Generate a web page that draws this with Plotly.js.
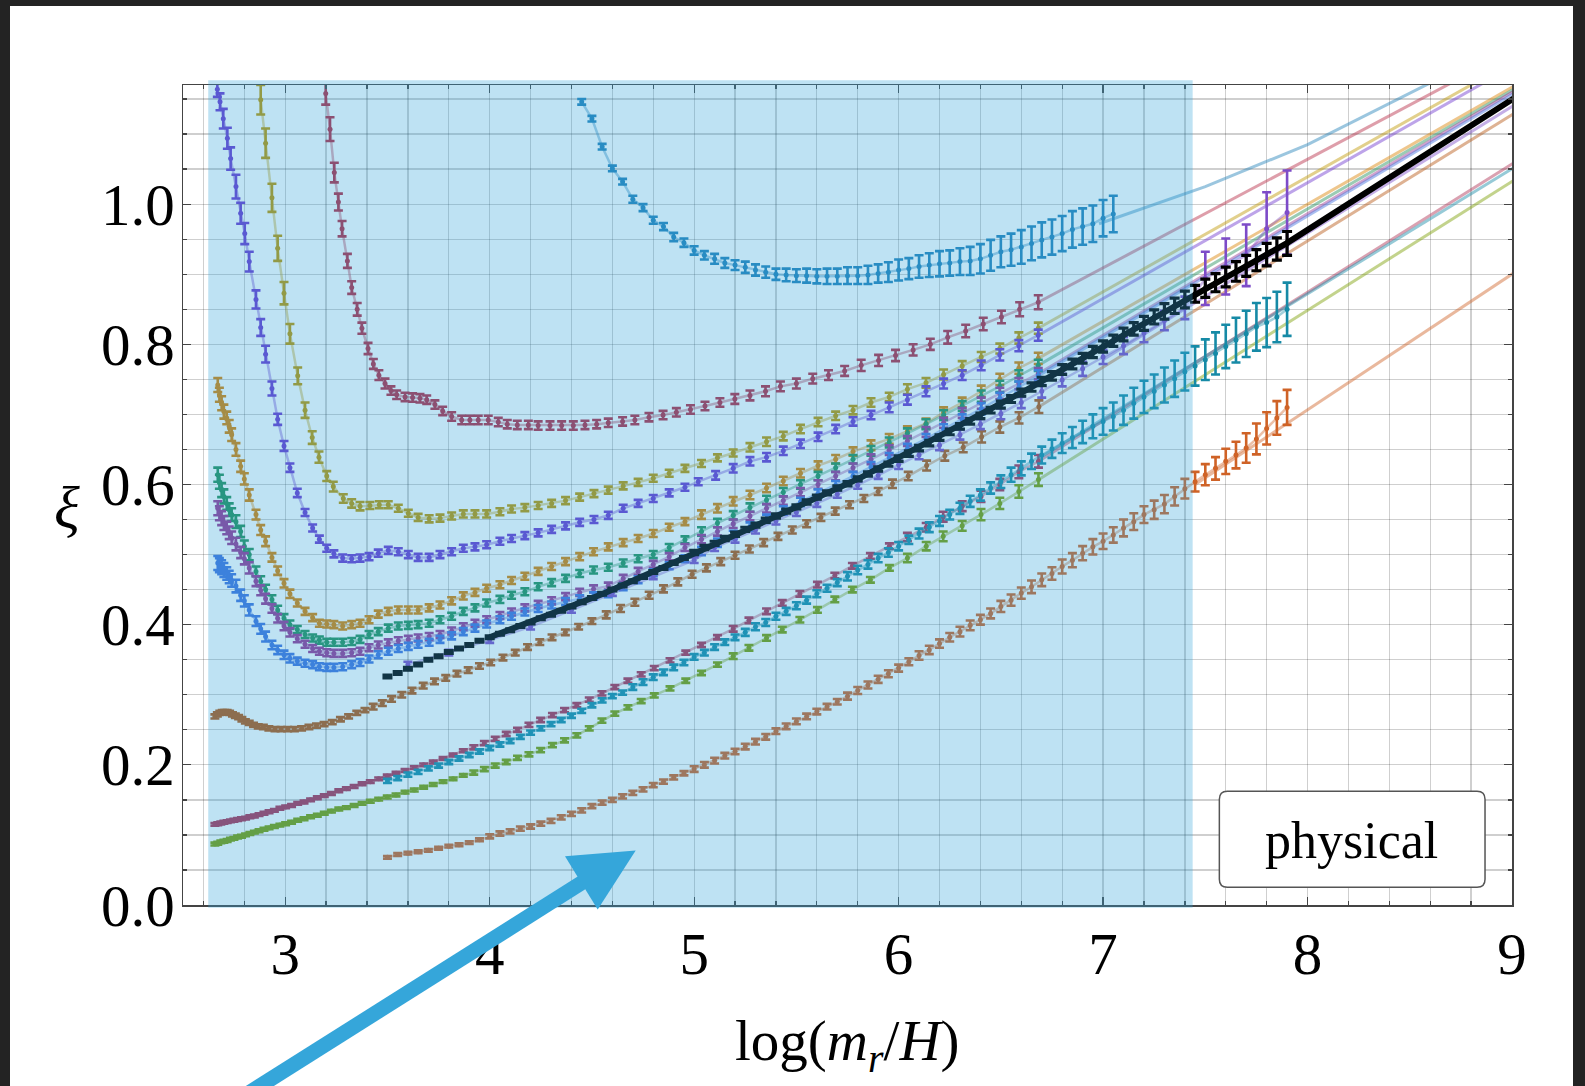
<!DOCTYPE html>
<html><head><meta charset="utf-8">
<script src="https://cdn.plot.ly/plotly-3.0.1.min.js"></script>
<style>
html,body{margin:0;padding:0;background:#232323;width:1585px;height:1086px;overflow:hidden;}
#chart{position:absolute;left:10px;top:6px;width:1563px;height:1080px;background:#fff;}
</style></head><body><div id="chart"></div>
<script>
// ---------- x grids ----------
const xGrid05 = [3.50,3.55,3.60,3.65,3.70,3.75,3.80,3.85,3.90,3.95,4.00,4.05,4.10,4.15,4.20,4.25,4.30,4.35,4.40,4.45,
4.50,4.55,4.60,4.65,4.70,4.75,4.80,4.85,4.90,4.95,5.00,5.05,5.10,5.15,5.20,5.25,5.30,5.35,5.40,5.45,
5.50,5.55,5.60,5.65,5.70,5.75,5.80,5.85,5.90,5.95,6.00,6.05,6.10,6.15,6.20,6.25,6.30,6.35,6.40,6.45,
6.50,6.55,6.60,6.65,6.70,6.75,6.80,6.85,6.90,6.95,7.00,7.05,7.10,7.15,7.20,7.25,7.30,7.35,7.40,7.45,
7.50,7.55,7.60,7.65,7.70,7.75,7.80,7.85,7.90];
const xLower4 = [2.670,2.678,2.689,2.700,2.714,2.726,2.738,2.759,2.782,2.800,2.824,2.857,2.880,2.904,2.935,2.963,2.994,3.023,3.059,3.097,
3.134,3.167,3.203,3.238,3.281,3.325,3.366,3.410,3.455,3.504,3.553,3.602,3.650,3.704,3.757,3.814,3.871,3.928,3.985,4.050,
4.107,4.172,4.237,4.303,4.371,4.440,4.508,4.580,4.653,4.726,4.800,4.878,4.955,5.036,5.114,5.191,5.273,5.354,5.436,5.520,
5.606,5.692,5.777,5.865,5.954,6.043,6.134,6.220,6.311,6.404,6.495,6.588,6.683];
const xDense78 = [2.656,2.670,2.685,2.700,2.716,2.732,2.749,2.767,2.786,2.806,2.827,2.849,2.872,2.896,2.921,2.947,2.974,3.002,3.031,3.061,
3.092,3.124,3.157,3.191,3.226,3.262,3.299,3.337,3.376,3.416,3.457,3.499,3.542,3.586,3.631,3.677,3.724,3.772,3.821,3.871,
3.922,3.974,4.027,4.081,4.136,4.192,4.249,4.307,4.366,4.426,4.487,4.549,4.612,4.676,4.741,4.805,4.882,4.959,5.036,5.114,
5.191,5.268,5.354,5.431,5.517,5.603,5.688,5.774,5.862,5.955,6.043,6.135,6.218,6.311,6.403,6.495,6.588,6.684];
const xMauveU = [3.198,3.219,3.240,3.260,3.278,3.304,3.325,3.352,3.375,3.405,3.431,3.458,3.488,3.517,3.545,3.586,3.623,3.659,3.692,3.732,
3.770,3.814,3.863,3.903,3.944,3.993,4.042,4.086,4.135,4.189,4.237,4.295,4.352,4.409,4.466,4.523,4.580,4.650,4.710,4.779,
4.848,4.913,4.982,5.053,5.126,5.199,5.273,5.349,5.422,5.500,5.580,5.657,5.736,5.817,5.902,5.985,6.071,6.155,6.240,6.328,
6.414,6.503,6.592,6.683];
const xOlive = [2.880,2.904,2.935,2.963,2.994,3.023,3.061,3.097,3.132,3.165,3.203,3.235,3.284,3.325,3.366,3.414,3.460,3.504,3.553,3.602,
3.650,3.704,3.757,3.814,3.871,3.928,3.985,4.050,4.107,4.172,4.237,4.303,4.371,4.440,4.510,4.580,4.653,4.726,4.800,4.878,
4.955,5.036,5.114,5.191,5.273,5.354,5.436,5.520,5.606,5.692,5.777,5.865,5.954,6.043,6.134,6.220,6.311,6.404,6.495,6.588,6.683];
const xVioletU = [2.668,2.681,2.697,2.717,2.733,2.759,2.782,2.802,2.824,2.857,2.880,2.904,2.935,2.963,2.994,3.023,3.059,3.097,3.134,3.167,
3.203,3.238,3.281,3.325,3.366,3.410,3.455,3.504,3.553,3.602,3.650,3.704,3.757,3.814,3.871,3.928,3.985,4.050,4.107,4.172,
4.237,4.303,4.371,4.440,4.510,4.580,4.653,4.726,4.800,4.878,4.955,5.020,5.105,5.191,5.273,5.354,5.436,5.520,5.606,5.692,
5.777,5.865,5.954,6.043,6.134,6.220,6.311,6.404,6.495,6.588,6.683];
const xBrown = [2.656,2.668,2.680,2.692,2.704,2.716,2.728,2.742,2.756,2.772,2.788,2.805,2.824,2.845,2.868,2.893,2.920,2.950,2.980,3.012,
3.045,3.080,3.116,3.153,3.190,3.230,3.270,3.310,3.350,3.390,3.430,3.475,3.520,3.570,3.620,3.675,3.730,3.785,3.840,3.895,
3.950,4.005,4.065,4.125,4.185,4.245,4.305,4.370,4.435,4.500,4.570,4.640,4.710,4.780,4.850,4.920,4.990,5.060,5.130,5.200,
5.270,5.340,5.410,5.480,5.550,5.620,5.690,5.760,5.830,5.900,5.970,6.047,6.137,6.226,6.316,6.406,6.495,6.589,6.686];
const xV2 = [3.6,3.8,4.0,4.2,4.4,4.6,4.8,5.0,5.1,5.2,5.3,5.4,5.5,5.6,5.7,5.8,5.9,6.0,6.1,6.2,6.3,6.4,6.5,6.6,6.7,6.8,6.9,
7.0,7.1,7.2,7.3,7.4,7.5,7.6,7.7,7.8,7.9];

// ---------- series values (xi) ----------
const yA = [1.146,1.122,1.082,1.051,1.032,1.007,0.995,0.977,0.968,0.953,0.945,0.934,0.927,0.922,0.916,0.913,0.910,0.906,0.903,0.900,
0.899,0.898,0.898,0.897,0.897,0.897,0.898,0.898,0.899,0.901,0.903,0.906,0.908,0.911,0.913,0.915,0.916,0.918,0.919,0.922,
0.927,0.932,0.935,0.939,0.944,0.949,0.953,0.958,0.964,0.968,0.972,0.980,0.986];
const yMauveU = [1.158,1.107,1.045,1.003,0.965,0.919,0.881,0.850,0.823,0.794,0.772,0.756,0.744,0.734,0.728,0.725,0.724,0.723,0.721,0.714,
0.705,0.697,0.692,0.692,0.692,0.692,0.689,0.686,0.685,0.685,0.684,0.684,0.684,0.684,0.685,0.686,0.688,0.690,0.692,0.696,
0.699,0.703,0.707,0.712,0.717,0.722,0.727,0.733,0.740,0.744,0.751,0.756,0.762,0.770,0.777,0.784,0.792,0.800,0.810,0.819,
0.829,0.839,0.850,0.860];
const yOlive = [1.149,1.087,1.009,0.937,0.873,0.815,0.755,0.706,0.667,0.639,0.612,0.597,0.580,0.573,0.569,0.570,0.571,0.571,0.566,0.559,
0.553,0.551,0.552,0.555,0.558,0.558,0.558,0.561,0.565,0.567,0.570,0.573,0.577,0.582,0.587,0.592,0.598,0.603,0.609,0.616,
0.623,0.630,0.638,0.645,0.653,0.661,0.669,0.679,0.689,0.698,0.706,0.717,0.725,0.736,0.745,0.757,0.769,0.782,0.794,0.809,0.823];
const yVioletU = [1.164,1.146,1.122,1.094,1.065,1.025,0.987,0.958,0.918,0.864,0.824,0.786,0.737,0.693,0.655,0.624,0.588,0.560,0.538,0.522,
0.509,0.501,0.495,0.494,0.495,0.497,0.502,0.506,0.504,0.500,0.496,0.496,0.500,0.504,0.509,0.511,0.514,0.519,0.523,0.527,
0.531,0.536,0.541,0.546,0.550,0.556,0.566,0.573,0.580,0.588,0.596,0.604,0.613,0.623,0.633,0.639,0.648,0.658,0.668,0.679,
0.690,0.699,0.710,0.721,0.733,0.744,0.756,0.770,0.785,0.798,0.813];
const yGold = [0.742,0.728,0.716,0.704,0.695,0.683,0.671,0.650,0.626,0.608,0.585,0.557,0.535,0.519,0.496,0.477,0.459,0.444,0.431,0.419,
0.410,0.402,0.401,0.400,0.398,0.400,0.402,0.407,0.415,0.419,0.421,0.421,0.421,0.424,0.428,0.434,0.441,0.446,0.452,0.457,
0.463,0.469,0.476,0.483,0.490,0.497,0.504,0.511,0.517,0.523,0.530,0.539,0.547,0.557,0.566,0.576,0.585,0.595,0.605,0.616,
0.627,0.636,0.647,0.656,0.665,0.676,0.687,0.703,0.717,0.733,0.750,0.766,0.780];
const yTeal = [0.614,0.604,0.592,0.583,0.573,0.564,0.557,0.547,0.533,0.512,0.500,0.476,0.462,0.450,0.436,0.421,0.409,0.400,0.393,0.386,
0.381,0.378,0.375,0.375,0.375,0.376,0.379,0.386,0.390,0.395,0.398,0.399,0.400,0.402,0.407,0.412,0.419,0.424,0.431,0.436,
0.442,0.447,0.454,0.460,0.466,0.473,0.478,0.482,0.488,0.494,0.500,0.510,0.521,0.533,0.545,0.556,0.567,0.578,0.589,0.600,
0.612,0.624,0.636,0.648,0.660,0.673,0.686,0.699,0.712,0.726,0.740,0.755,0.770];
const yPurple = [0.566,0.559,0.552,0.545,0.538,0.531,0.524,0.515,0.503,0.494,0.481,0.462,0.449,0.437,0.423,0.409,0.398,0.389,0.380,0.372,
0.366,0.362,0.360,0.359,0.359,0.360,0.362,0.367,0.371,0.374,0.377,0.379,0.381,0.383,0.386,0.391,0.397,0.402,0.407,0.413,
0.418,0.424,0.429,0.434,0.440,0.446,0.451,0.455,0.466,0.476,0.486,0.497,0.510,0.522,0.533,0.544,0.555,0.566,0.577,0.589,
0.600,0.612,0.624,0.636,0.649,0.662,0.675,0.688,0.702,0.716,0.730,0.744,0.758];
const yBlue = [0.488,0.485,0.482,0.478,0.473,0.468,0.463,0.455,0.442,0.434,0.421,0.405,0.394,0.383,0.371,0.364,0.357,0.352,0.348,0.345,
0.343,0.340,0.339,0.339,0.340,0.343,0.346,0.351,0.357,0.362,0.366,0.369,0.372,0.375,0.379,0.384,0.390,0.395,0.401,0.407,
0.412,0.418,0.423,0.428,0.433,0.437,0.441,0.444,0.454,0.464,0.474,0.484,0.494,0.505,0.517,0.528,0.540,0.551,0.563,0.575,
0.587,0.599,0.612,0.625,0.638,0.651,0.665,0.679,0.693,0.708,0.723,0.739,0.755];
const yBrown = [0.269,0.272,0.274,0.275,0.275,0.275,0.274,0.272,0.270,0.268,0.265,0.262,0.260,0.257,0.255,0.254,0.252,0.251,0.251,0.251,
0.251,0.252,0.254,0.256,0.258,0.261,0.265,0.269,0.274,0.278,0.283,0.288,0.294,0.300,0.306,0.313,0.319,0.324,0.330,0.335,
0.341,0.346,0.353,0.360,0.368,0.375,0.382,0.389,0.397,0.405,0.414,0.423,0.432,0.442,0.451,0.461,0.472,0.481,0.490,0.499,
0.508,0.517,0.526,0.535,0.544,0.553,0.562,0.571,0.580,0.590,0.601,0.612,0.627,0.641,0.653,0.668,0.682,0.695,0.711];
const yMauveL = [0.115,0.116,0.117,0.118,0.119,0.120,0.121,0.122,0.123,0.124,0.126,0.127,0.129,0.131,0.133,0.135,0.138,0.140,0.142,0.145,
0.147,0.150,0.153,0.156,0.159,0.163,0.166,0.169,0.173,0.176,0.180,0.184,0.188,0.192,0.196,0.200,0.204,0.209,0.214,0.220,
0.225,0.231,0.237,0.244,0.250,0.257,0.264,0.271,0.278,0.285,0.293,0.302,0.311,0.320,0.329,0.338,0.349,0.360,0.371,0.382,
0.394,0.406,0.419,0.431,0.444,0.457,0.470,0.484,0.498,0.512,0.525,0.539,0.554,0.569,0.583,0.600,0.618,0.633];
const yGreen = [0.087,0.088,0.090,0.091,0.092,0.094,0.095,0.097,0.098,0.100,0.102,0.104,0.106,0.108,0.110,0.112,0.114,0.116,0.118,0.121,
0.123,0.126,0.128,0.131,0.134,0.137,0.139,0.142,0.145,0.148,0.151,0.154,0.157,0.161,0.164,0.168,0.172,0.176,0.180,0.185,
0.189,0.194,0.199,0.204,0.210,0.215,0.221,0.228,0.235,0.242,0.252,0.263,0.273,0.282,0.291,0.299,0.309,0.320,0.331,0.343,
0.355,0.367,0.381,0.393,0.407,0.421,0.436,0.450,0.464,0.481,0.495,0.512,0.526,0.541,0.557,0.573,0.590,0.607];
const yTealBlue = [0.177,0.181,0.186,0.190,0.195,0.199,0.204,0.209,0.214,0.219,0.224,0.229,0.234,0.240,0.246,0.252,0.258,0.264,0.270,0.277,
0.285,0.292,0.298,0.303,0.311,0.318,0.325,0.332,0.339,0.346,0.354,0.360,0.368,0.375,0.382,0.389,0.397,0.403,0.412,0.419,
0.427,0.435,0.444,0.452,0.460,0.469,0.478,0.486,0.495,0.503,0.512,0.521,0.530,0.539,0.548,0.557,0.566,0.576,0.585,0.595,
0.604,0.614,0.623,0.633,0.642,0.651,0.659,0.667,0.675,0.683,0.690,0.697,0.706,0.716,0.725,0.733,0.742,0.751,0.761,0.769,
0.778,0.787,0.797,0.806,0.815,0.825,0.831,0.839,0.850];
const yOrange = [0.068,0.072,0.074,0.076,0.078,0.081,0.084,0.086,0.089,0.093,0.098,0.102,0.105,0.109,0.112,0.116,0.120,0.125,0.130,0.135,
0.141,0.146,0.150,0.155,0.160,0.165,0.171,0.176,0.182,0.188,0.194,0.200,0.206,0.213,0.219,0.226,0.233,0.240,0.248,0.255,
0.262,0.269,0.276,0.283,0.290,0.298,0.306,0.314,0.322,0.330,0.338,0.347,0.356,0.364,0.373,0.382,0.390,0.399,0.407,0.416,
0.426,0.435,0.445,0.454,0.464,0.473,0.483,0.492,0.502,0.511,0.519,0.528,0.538,0.547,0.557,0.564,0.572,0.583,0.594,0.604,
0.614,0.623,0.633,0.642,0.652,0.665,0.680,0.695,0.710];
const yBlack = [0.326,0.331,0.337,0.343,0.350,0.355,0.361,0.366,0.371,0.377,0.382,0.387,0.392,0.398,0.403,0.409,0.414,0.420,0.426,0.432,
0.438,0.444,0.450,0.456,0.462,0.468,0.475,0.481,0.488,0.495,0.503,0.510,0.516,0.523,0.529,0.536,0.542,0.549,0.555,0.562,
0.568,0.575,0.582,0.588,0.595,0.601,0.608,0.615,0.622,0.629,0.637,0.644,0.652,0.659,0.667,0.675,0.683,0.690,0.698,0.706,
0.714,0.722,0.731,0.739,0.747,0.755,0.764,0.772,0.780,0.789,0.797,0.805,0.814,0.822,0.830,0.839,0.847,0.855,0.864,0.872,
0.880,0.888,0.896,0.904,0.912,0.920,0.928,0.936,0.944];
const yV2 = [0.343,0.360,0.378,0.397,0.421,0.445,0.469,0.492,0.510,0.522,0.535,0.548,0.560,0.573,0.586,0.599,0.613,
0.628,0.642,0.656,0.671,0.686,0.701,0.717,0.733,0.749,0.765,0.782,0.798,0.816,0.834,0.852,0.894,0.911,0.927,0.965,0.988];

// ---------- error bars (half widths) ----------
const eA = [0.004,0.004,0.004,0.004,0.004,0.005,0.005,0.005,0.005,0.006,0.006,0.006,0.006,0.007,0.007,0.007,0.008,0.008,0.008,0.008,
0.009,0.009,0.010,0.010,0.011,0.011,0.012,0.012,0.013,0.013,0.014,0.015,0.015,0.016,0.017,0.018,0.018,0.019,0.020,0.021,
0.022,0.022,0.023,0.024,0.024,0.025,0.025,0.025,0.026,0.026,0.026,0.026,0.026];
const eMauveU = [0.016,0.017,0.014,0.012,0.011,0.010,0.009,0.009,0.008,0.008,0.007,0.007,0.007,0.006,0.006,0.006,0.006,0.006,0.006,0.006,
0.006,0.006,0.006,0.006,0.006,0.006,0.006,0.006,0.006,0.006,0.006,0.006,0.006,0.006,0.006,0.006,0.006,0.006,0.006,0.006,
0.006,0.006,0.006,0.006,0.006,0.007,0.007,0.007,0.007,0.007,0.007,0.007,0.007,0.008,0.008,0.008,0.008,0.008,0.009,0.009,
0.009,0.009,0.010,0.010];
const eOlive = [0.021,0.021,0.020,0.018,0.016,0.014,0.012,0.011,0.009,0.008,0.007,0.007,0.006,0.006,0.006,0.005,0.005,0.005,0.005,0.005,
0.005,0.005,0.005,0.005,0.005,0.005,0.005,0.005,0.005,0.005,0.005,0.005,0.005,0.005,0.005,0.005,0.005,0.005,0.005,0.005,
0.005,0.005,0.005,0.005,0.006,0.006,0.006,0.006,0.006,0.006,0.006,0.006,0.006,0.007,0.007,0.007,0.007,0.007,0.007,0.008,0.008];
const eVioletU = [0.011,0.012,0.014,0.015,0.016,0.017,0.015,0.015,0.014,0.013,0.012,0.012,0.010,0.008,0.007,0.006,0.006,0.005,0.005,0.005,
0.005,0.005,0.005,0.005,0.005,0.005,0.005,0.005,0.005,0.005,0.005,0.005,0.005,0.005,0.005,0.005,0.005,0.005,0.005,0.005,
0.005,0.005,0.005,0.005,0.005,0.005,0.005,0.005,0.005,0.005,0.005,0.005,0.006,0.006,0.006,0.006,0.006,0.006,0.006,0.006,
0.006,0.006,0.007,0.007,0.007,0.007,0.007,0.007,0.008,0.008,0.008];
const eLower4 = [0.010,0.010,0.010,0.010,0.009,0.009,0.009,0.009,0.008,0.008,0.008,0.007,0.007,0.007,0.006,0.006,0.006,0.006,0.005,0.005,
0.005,0.005,0.005,0.005,0.005,0.005,0.005,0.005,0.005,0.005,0.005,0.005,0.005,0.005,0.005,0.005,0.005,0.005,0.005,0.005,
0.005,0.005,0.005,0.005,0.005,0.005,0.005,0.005,0.005,0.005,0.005,0.005,0.005,0.006,0.006,0.006,0.006,0.006,0.006,0.006,
0.006,0.006,0.006,0.007,0.007,0.007,0.007,0.007,0.007,0.008,0.008,0.008,0.008];
const eBrown = [0.003,0.003,0.003,0.003,0.003,0.003,0.003,0.003,0.003,0.003,0.003,0.003,0.003,0.003,0.003,0.003,0.003,0.003,0.003,0.003,
0.003,0.003,0.003,0.003,0.003,0.003,0.003,0.003,0.003,0.003,0.004,0.004,0.004,0.004,0.004,0.004,0.004,0.004,0.004,0.004,
0.004,0.004,0.004,0.004,0.004,0.004,0.004,0.004,0.004,0.004,0.005,0.005,0.005,0.005,0.005,0.005,0.005,0.005,0.005,0.005,
0.005,0.005,0.005,0.005,0.005,0.005,0.005,0.005,0.005,0.005,0.006,0.006,0.007,0.007,0.007,0.008,0.008,0.008,0.009];
const eDense78 = [0.002,0.002,0.002,0.002,0.002,0.002,0.002,0.002,0.002,0.002,0.002,0.002,0.002,0.002,0.002,0.002,0.002,0.002,0.002,0.002,
0.002,0.002,0.002,0.002,0.002,0.002,0.002,0.002,0.002,0.002,0.002,0.002,0.002,0.002,0.002,0.002,0.002,0.002,0.002,0.002,
0.003,0.003,0.003,0.003,0.003,0.003,0.003,0.003,0.003,0.003,0.003,0.003,0.003,0.003,0.003,0.003,0.003,0.003,0.003,0.003,
0.004,0.004,0.004,0.004,0.004,0.004,0.004,0.004,0.004,0.004,0.006,0.006,0.007,0.007,0.008,0.008,0.009,0.009];
const eTealBlue = [0.003,0.003,0.003,0.003,0.003,0.003,0.003,0.003,0.003,0.003,0.003,0.003,0.003,0.003,0.003,0.003,0.003,0.003,0.003,0.003,
0.003,0.003,0.003,0.003,0.004,0.004,0.004,0.004,0.004,0.004,0.004,0.004,0.004,0.004,0.004,0.005,0.005,0.005,0.005,0.005,
0.005,0.005,0.005,0.005,0.005,0.006,0.006,0.006,0.006,0.006,0.006,0.006,0.007,0.007,0.007,0.007,0.008,0.008,0.008,0.008,
0.009,0.010,0.010,0.011,0.012,0.013,0.014,0.015,0.016,0.017,0.019,0.020,0.021,0.022,0.023,0.024,0.025,0.026,0.027,0.028,
0.029,0.030,0.031,0.032,0.033,0.034,0.035,0.036,0.038];
const eOrange = [0.002,0.002,0.002,0.002,0.002,0.002,0.002,0.002,0.002,0.002,0.003,0.003,0.003,0.003,0.003,0.003,0.003,0.003,0.003,0.003,
0.003,0.003,0.003,0.003,0.003,0.003,0.003,0.003,0.003,0.003,0.004,0.004,0.004,0.004,0.004,0.004,0.004,0.004,0.004,0.004,
0.004,0.004,0.004,0.004,0.004,0.005,0.005,0.005,0.005,0.005,0.005,0.005,0.006,0.006,0.006,0.006,0.007,0.007,0.007,0.007,
0.008,0.008,0.008,0.009,0.009,0.009,0.010,0.010,0.010,0.011,0.011,0.011,0.012,0.012,0.012,0.013,0.013,0.013,0.014,0.014,
0.015,0.016,0.018,0.019,0.021,0.022,0.023,0.024,0.025];
const eBlack = [0.002,0.002,0.002,0.002,0.002,0.002,0.002,0.002,0.002,0.002,0.002,0.002,0.002,0.002,0.002,0.002,0.002,0.002,0.002,0.002,
0.002,0.002,0.002,0.002,0.002,0.002,0.002,0.002,0.002,0.002,0.003,0.003,0.003,0.003,0.003,0.003,0.003,0.003,0.003,0.003,
0.003,0.003,0.003,0.003,0.003,0.003,0.003,0.003,0.003,0.003,0.004,0.004,0.004,0.004,0.004,0.004,0.004,0.004,0.004,0.004,
0.005,0.005,0.005,0.006,0.006,0.006,0.007,0.007,0.007,0.008,0.008,0.008,0.009,0.009,0.010,0.010,0.011,0.011,0.012,0.012,
0.013,0.013,0.014,0.014,0.015,0.015,0.016,0.016,0.017];
const eV2 = [0.004,0.004,0.004,0.004,0.004,0.004,0.004,0.004,0.005,0.005,0.005,0.005,0.005,0.005,0.005,0.005,0.005,
0.006,0.006,0.007,0.007,0.007,0.008,0.008,0.009,0.009,0.010,0.010,0.012,0.013,0.014,0.016,0.038,0.040,0.044,0.052,0.060];

// ---------- extrapolated fit lines ----------
const fitA_x = [6.98,7.5,8.0,8.5,8.75],        fitA_y = [0.972,1.025,1.085,1.158,1.195];
const fitMauveU_x = [6.683,9.0],   fitMauveU_y = [0.860,1.219];
const fitOlive_x = [6.683,9.0],    fitOlive_y = [0.823,1.203];
const fitVioletU_x = [6.683,9.0],  fitVioletU_y = [0.813,1.196];
const fitGold_x = [6.683,9.02],    fitGold_y = [0.780,1.170];
const fitTeal_x = [6.683,9.02],    fitTeal_y = [0.770,1.166];
const fitPurple_x = [6.683,9.02],  fitPurple_y = [0.758,1.163];
const fitBlue_x = [6.683,9.02],    fitBlue_y = [0.755,1.160];
const fitBrown_x = [6.686,9.02],   fitBrown_y = [0.711,1.131];
const fitMauveL_x = [6.683,9.02],  fitMauveL_y = [0.633,1.061];
const fitTealBlue_x = [6.70,9.02], fitTealBlue_y = [0.640,1.054];
const fitGreen_x = [6.686,9.02],   fitGreen_y = [0.607,1.036];
const fitOrange_x = [7.45,9.02],   fitOrange_y = [0.600,0.904];
const fitV2_x = [7.0,9.02],        fitV2_y = [0.778,1.143];
const fitBlack_x = [4.0,4.555,5.028,5.81,6.626,7.44,7.897,9.02];
const fitBlack_y = [0.382,0.444,0.505,0.609,0.735,0.870,0.944,1.153];

// ---------- colours ----------
const C = {
  A:'#2280B8', mauveU:'#B52842', olive:'#BE9600', violetU:'#6C36CE', gold:'#DA8000', teal:'#228F58',
  purple:'#983693', blue:'#4071DD', brown:'#B6540F', mauveL:'#AE2F51', tealBlue:'#168AA6',
  green:'#7B9D00', orange:'#CF6226', v2:'#7D4BC8', black:'#000000'
};
function rgba(hex,a){const n=parseInt(hex.slice(1),16);return `rgba(${(n>>16)&255},${(n>>8)&255},${n&255},${a})`;}

function fitTrace(x,y,col,w,a){
  return {type:'scatter',mode:'lines',x:x,y:y,line:{color:rgba(col,a),width:w},hoverinfo:'skip'};
}
function dataTrace(x,y,e,col,withLine,th,cw){
  return {type:'scatter',mode:withLine?'lines+markers':'markers',x:x,y:y,
    line:{color:rgba(col,0.4),width:2.5},
    marker:{color:col,size:5},
    error_y:{type:'data',array:e,visible:true,color:col,thickness:th||2.6,width:cw||4.5},
    hoverinfo:'skip'};
}
const FA = 0.45, FW = 3;
const xA = xGrid05.slice(19,72);
const traces = [
  fitTrace(fitA_x,fitA_y,C.A,FW,FA),
  fitTrace(fitMauveU_x,fitMauveU_y,C.mauveU,FW,FA),
  fitTrace(fitOlive_x,fitOlive_y,C.olive,FW,FA),
  fitTrace(fitVioletU_x,fitVioletU_y,C.violetU,FW,FA),
  fitTrace(fitGold_x,fitGold_y,C.gold,FW,FA),
  fitTrace(fitTeal_x,fitTeal_y,C.teal,FW,FA),
  fitTrace(fitPurple_x,fitPurple_y,C.purple,FW,FA),
  fitTrace(fitBlue_x,fitBlue_y,C.blue,FW,FA),
  fitTrace(fitBrown_x,fitBrown_y,C.brown,FW,FA),
  fitTrace(fitMauveL_x,fitMauveL_y,C.mauveL,FW,FA),
  fitTrace(fitTealBlue_x,fitTealBlue_y,C.tealBlue,FW,FA),
  fitTrace(fitGreen_x,fitGreen_y,C.green,FW,FA),
  fitTrace(fitOrange_x,fitOrange_y,C.orange,FW,FA),
  fitTrace(fitV2_x,fitV2_y,C.v2,FW,FA),
  dataTrace(xA,yA,eA,C.A,true),
  dataTrace(xMauveU,yMauveU,eMauveU,C.mauveU,true),
  dataTrace(xOlive,yOlive,eOlive,C.olive,true),
  dataTrace(xVioletU,yVioletU,eVioletU,C.violetU,true),
  dataTrace(xLower4,yGold,eLower4,C.gold,true),
  dataTrace(xLower4,yTeal,eLower4,C.teal,true),
  dataTrace(xLower4,yPurple,eLower4,C.purple,true),
  dataTrace(xLower4,yBlue,eLower4,C.blue,true),
  dataTrace(xBrown,yBrown,eBrown,C.brown,true),
  dataTrace(xDense78,yMauveL,eDense78,C.mauveL,true),
  dataTrace(xDense78,yGreen,eDense78,C.green,true),
  dataTrace(xGrid05,yTealBlue,eTealBlue,C.tealBlue,true),
  dataTrace(xGrid05,yOrange,eOrange,C.orange,true),
  dataTrace(xV2,yV2,eV2,C.v2,true),
  fitTrace(fitBlack_x,fitBlack_y,C.black,6,1),
  dataTrace(xGrid05,yBlack,eBlack,C.black,false,3.2,5)
];

// ---------- decorations (paper coordinates) ----------
const bx0=0.7798,bx1=0.9797,by0=0.0217,by1=0.1387,rx=0.006,ry=0.0098;
const boxPath=`M ${bx0+rx},${by0} L ${bx1-rx},${by0} Q ${bx1},${by0} ${bx1},${by0+ry} L ${bx1},${by1-ry} Q ${bx1},${by1} ${bx1-rx},${by1} L ${bx0+rx},${by1} Q ${bx0},${by1} ${bx0},${by1-ry} L ${bx0},${by0+ry} Q ${bx0},${by0} ${bx0+rx},${by0} Z`;
const ARROW='#35A6DA';
const shapes=[
  {type:'rect',xref:'paper',yref:'paper',x0:0.019,x1:0.7597,y0:-0.0034,y1:1.0057,
   fillcolor:'rgba(52,166,218,0.32)',line:{width:0},layer:'above'},
  {type:'path',xref:'paper',yref:'paper',path:boxPath,fillcolor:'#ffffff',line:{color:'#555',width:1.5},layer:'above'},
  {type:'line',xref:'paper',yref:'paper',x0:0.04665,y0:-0.2322,x1:0.30624,y1:0.03352,line:{color:ARROW,width:15},layer:'above'},
  {type:'path',xref:'paper',yref:'paper',path:'M 0.28743,0.05948 L 0.34063,0.06642 L 0.31204,-0.00548 Z',
   fillcolor:ARROW,line:{width:0},layer:'above'}
];
const SERIF='Liberation Serif, Times New Roman, serif';
const grid='rgba(0,0,0,0.19)';
const layout={
  width:1563,height:1080,margin:{l:173,r:61,t:79,b:181,pad:0},
  paper_bgcolor:'#ffffff',plot_bgcolor:'#ffffff',showlegend:false,hovermode:false,
  xaxis:{range:[2.5,9],tickmode:'linear',tick0:0,dtick:1,ticks:'inside',ticklen:8,tickwidth:1.3,tickcolor:'#444',
    showline:true,linecolor:'#444',linewidth:1.5,mirror:'ticks',showgrid:true,gridcolor:grid,gridwidth:1.3,zeroline:false,
    tickfont:{family:SERIF,size:59,color:'#000'},ticklabelstandoff:-3,
    minor:{tickmode:'linear',tick0:0,dtick:0.2,ticks:'inside',ticklen:4,tickcolor:'#444',showgrid:true,gridcolor:grid,gridwidth:1.3}},
  yaxis:{range:[0,1.17],tickmode:'linear',tick0:0,dtick:0.2,tickformat:'.1f',ticks:'inside',ticklen:8,tickwidth:1.3,tickcolor:'#444',
    showline:true,linecolor:'#444',linewidth:1.5,mirror:'ticks',showgrid:true,gridcolor:grid,gridwidth:1.3,zeroline:false,
    tickfont:{family:SERIF,size:59,color:'#000'},ticklabelstandoff:-5,
    minor:{tickmode:'linear',tick0:0,dtick:0.05,ticks:'inside',ticklen:4,tickcolor:'#444',showgrid:true,gridcolor:grid,gridwidth:1.3}},
  shapes:shapes,
  annotations:[
    {xref:'paper',yref:'paper',x:0.8796,y:0.0786,text:'physical',showarrow:false,xanchor:'center',yanchor:'middle',
     font:{family:SERIF,size:52,color:'#000'}},
    {xref:'paper',yref:'paper',x:0.5,y:-0.171,text:'log(<i>m</i><sub><i>r</i></sub>/<i>H</i>)',showarrow:false,
     xanchor:'center',yanchor:'middle',font:{family:SERIF,size:57,color:'#000'}},
    {xref:'paper',yref:'paper',x:-0.0875,y:0.484,text:'<i>ξ</i>',showarrow:false,xanchor:'center',yanchor:'middle',
     font:{family:SERIF,size:60,color:'#000'}}
  ]
};
Plotly.newPlot('chart',traces,layout,{staticPlot:true,displayModeBar:false});
</script></body></html>
